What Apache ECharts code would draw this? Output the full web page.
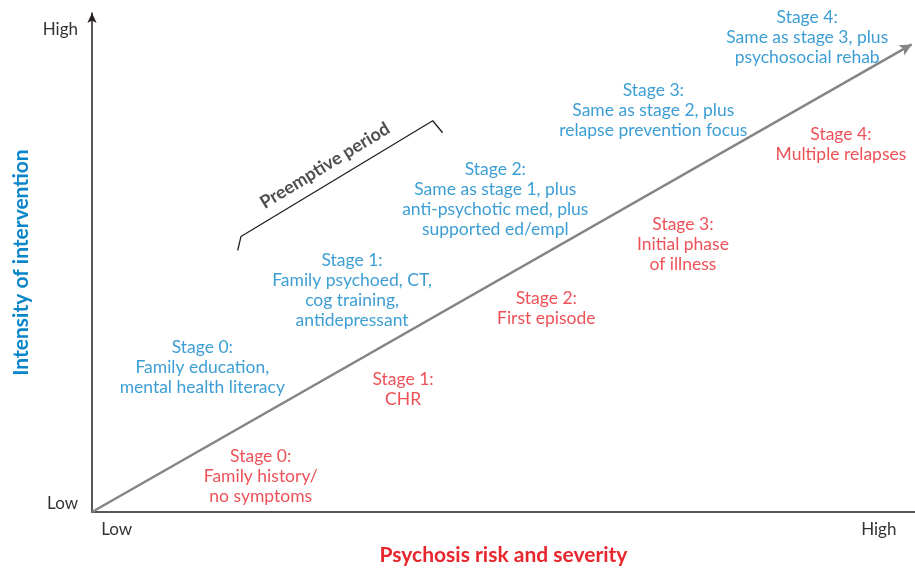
<!DOCTYPE html>
<html>
<head>
<meta charset="utf-8">
<script src="https://cdn.jsdelivr.net/npm/echarts@6/dist/echarts.min.js"></script>
<style>
    html, body { margin: 0; padding: 0; background: #fff; }
    #chart { width: 915px; height: 571px; }
</style>
</head>
<body>
<div id="chart"></div>
<script>
    // axis tick labels (value on a 0-100 scale, text)
    const xTickValues = [3.0, 95.6];
    const xTickLabels = ['Low', 'High'];
    const yTickValues = [1.8, 96.6];
    const yTickLabels = ['Low', 'High'];

    // the diagonal trend arrow, start and end
    const trendLine = [[0, 0], [99.6, 93.7]];

    // intervention stages (blue, above the line)
    const interventionText = [
        'Stage 0:\nFamily education,\nmental health literacy',
        'Stage 1:\nFamily psychoed, CT,\ncog training,\nantidepressant',
        'Stage 2:\nSame as stage 1, plus\nanti-psychotic med, plus\nsupported ed/empl',
        'Stage 3:\nSame as stage 2, plus\nrelapse prevention focus',
        'Stage 4:\nSame as stage 3, plus\npsychosocial rehab'
    ];
    const interventionX = [13.4, 31.6, 49.0, 68.2, 86.9];
    const interventionY = [28.9, 44.4, 62.7, 80.4, 95.1];

    // illness stages (red, below the line)
    const illnessText = [
        'Stage 0:\nFamily history/\nno symptoms',
        'Stage 1:\nCHR',
        'Stage 2:\nFirst episode',
        'Stage 3:\nInitial phase\nof illness',
        'Stage 4:\nMultiple relapses'
    ];
    const illnessX = [20.5, 37.8, 55.2, 71.8, 91.0];
    const illnessY = [7.2, 24.5, 40.8, 53.6, 73.6];

    // preemptive period bracket
    const bracket = [[17.7, 52.4], [18.1, 55.2], [41.4, 78.4], [42.6, 76.0]];
    const bracketLabel = [[28.3, 69.4]];

    const blue = '#0b86c9';
    const red = '#e8262d';
    const font = 'Lato';

    const toPoints = (xs, ys, texts) => xs.map((x, i) => ({ value: [x, ys[i]], text: texts[i] }));

    const chart = echarts.init(document.getElementById('chart'));
    chart.setOption({
        animation: false,
        grid: { left: 92, right: 0, top: 13, bottom: 54 },
        xAxis: {
            type: 'value', min: 0, max: 100,
            name: 'Psychosis risk and severity',
            nameLocation: 'middle', nameGap: 33,
            nameTextStyle: { color: red, fontSize: 21, fontWeight: 'bold', fontFamily: font },
            splitLine: { show: false },
            axisTick: { show: false },
            axisLine: { lineStyle: { color: '#231f20', width: 1.5 } },
            axisLabel: {
                customValues: xTickValues,
                formatter: (v) => xTickLabels[xTickValues.indexOf(v)],
                color: '#333', fontSize: 17, fontFamily: font, margin: 9
            }
        },
        yAxis: {
            type: 'value', min: 0, max: 100,
            name: 'Intensity of intervention',
            nameLocation: 'middle', nameGap: 58, nameRotate: 90,
            nameTextStyle: { color: blue, fontSize: 21, fontWeight: 'bold', fontFamily: font },
            splitLine: { show: false },
            axisTick: { show: false },
            axisLine: { symbol: ['none', 'arrow'], symbolSize: [7, 10], lineStyle: { color: '#231f20', width: 1.5 } },
            axisLabel: {
                customValues: yTickValues,
                formatter: (v) => yTickLabels[yTickValues.indexOf(v)],
                color: '#333', fontSize: 17, fontFamily: font, margin: 14
            }
        },
        series: [
            {
                type: 'line',
                data: [],
                markLine: {
                    silent: true,
                    symbol: ['none', 'arrow'],
                    symbolSize: [9, 12],
                    label: { show: false },
                    lineStyle: { color: '#858585', width: 2.5, type: 'solid' },
                    data: [[{ coord: trendLine[0] }, { coord: trendLine[1] }]]
                }
            },
            {
                type: 'line',
                data: bracket,
                symbol: 'none',
                smooth: false,
                lineStyle: { color: '#231f20', width: 1.3 }
            },
            {
                type: 'scatter',
                symbolSize: 0,
                data: bracketLabel,
                label: {
                    show: true, position: 'inside', rotate: 31.4,
                    formatter: 'Preemptive period',
                    color: '#231f20', fontSize: 18, fontWeight: 'bold', fontFamily: font
                }
            },
            {
                type: 'scatter',
                symbolSize: 0,
                data: toPoints(interventionX, interventionY, interventionText),
                label: {
                    show: true, position: 'inside', align: 'center',
                    formatter: (p) => p.data.text,
                    color: blue, fontSize: 17.5, lineHeight: 20, fontFamily: font
                }
            },
            {
                type: 'scatter',
                symbolSize: 0,
                data: toPoints(illnessX, illnessY, illnessText),
                label: {
                    show: true, position: 'inside', align: 'center',
                    formatter: (p) => p.data.text,
                    color: red, fontSize: 17.5, lineHeight: 20, fontFamily: font
                }
            }
        ]
    });
</script>
</body>
</html>
